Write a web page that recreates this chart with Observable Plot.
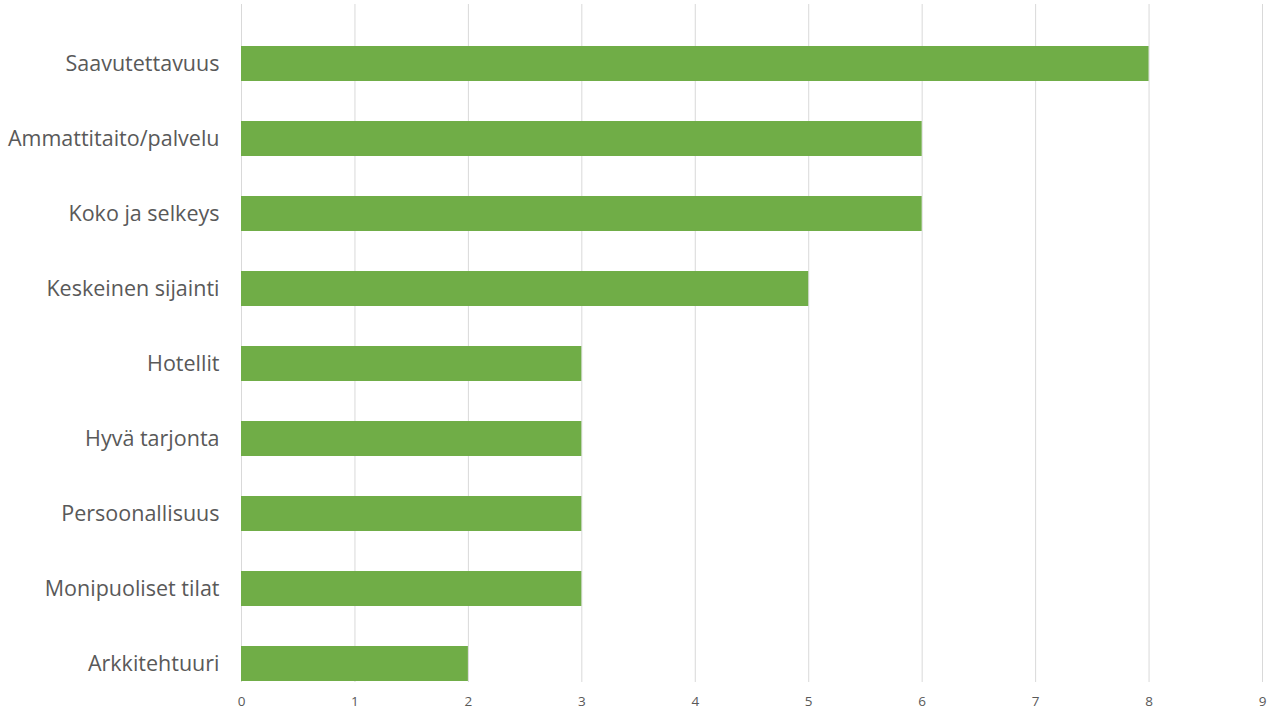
<!DOCTYPE html>
<html><head><meta charset="utf-8">
<script src="https://cdn.jsdelivr.net/npm/d3@7"></script>
<script src="https://cdn.jsdelivr.net/npm/@observablehq/plot@0.6"></script>
<style>body{margin:0;background:#fff;} svg{display:block;}</style>
</head><body><div id="chart"></div>
<script>
const categories = ["Saavutettavuus","Ammattitaito/palvelu","Koko ja selkeys","Keskeinen sijainti","Hotellit","Hyvä tarjonta","Persoonallisuus","Monipuoliset tilat","Arkkitehtuuri"];
const values = [8,6,6,5,3,3,3,3,2];
const xTicks = [0,1,2,3,4,5,6,7,8,9];
const data = categories.map((c,i)=>({cat:c, v:values[i]}));

const chart = Plot.plot({
  width: 1280, height: 720,
  marginTop: 4, marginBottom: 38, marginLeft: 241, marginRight: 18,
  style: {fontFamily: "Open Sans, sans-serif", color: "#595959", background: "#fff"},
  x: {domain: [0,9], ticks: xTicks, label: null},
  y: {domain: categories, range: [24.9, 701.6], paddingInner: 0.535, paddingOuter: 0.2675, label: null},
  marks: [
    Plot.gridX(xTicks, {stroke: "#d9d9d9", strokeOpacity: 1}),
    Plot.barX(data, {x: "v", y: "cat", fill: "#70ad47"}),
    Plot.axisX({ticks: xTicks, tickSize: 0, tickPadding: 14, fontSize: 13.5, fill: "#595959"}),
    Plot.axisY({tickSize: 0, tickPadding: 22, fontSize: 21.5, fill: "#595959"})
  ]
});
document.getElementById("chart").appendChild(chart);
</script></body></html>
